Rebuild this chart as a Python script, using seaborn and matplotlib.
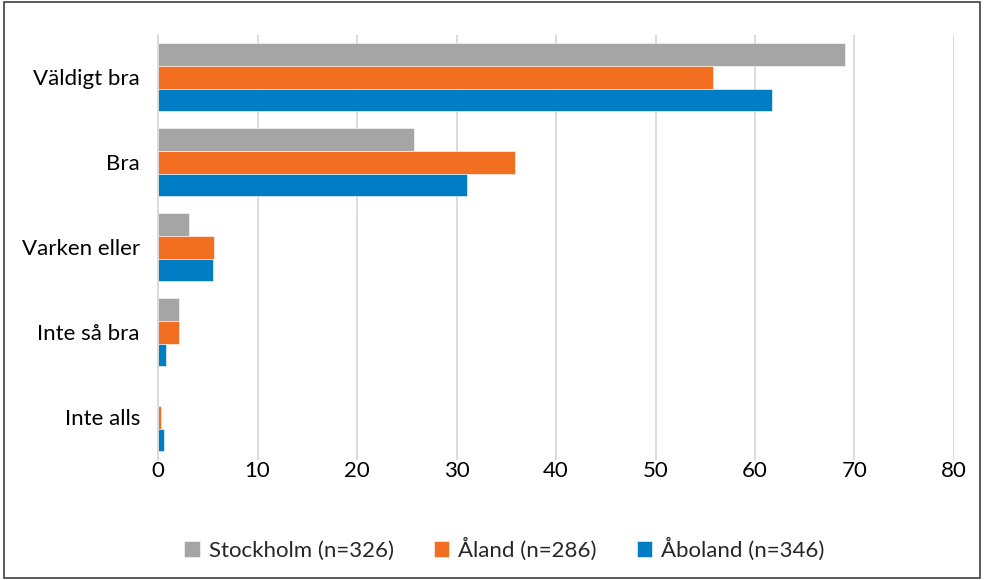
import pandas as pd
import matplotlib.pyplot as plt
import seaborn as sns
from matplotlib.patches import Rectangle

# Data (percent)
categories = ['Väldigt bra', 'Bra', 'Varken eller', 'Inte så bra', 'Inte alls']
series = ['Stockholm (n=326)', 'Åland (n=286)', 'Åboland (n=346)']
stockholm = [69.0, 25.7, 3.1, 2.1, 0.0]
aland = [55.8, 35.9, 5.6, 2.1, 0.3]
aboland = [61.7, 31.1, 5.5, 0.8, 0.6]
colors = ['#A5A5A5', '#F26F22', '#007DC5']

rows = []
for name, vals in zip(series, [stockholm, aland, aboland]):
    for cat, v in zip(categories, vals):
        rows.append({'kategori': cat, 'serie': name, 'procent': v})
df = pd.DataFrame(rows)

sns.set_style('white')
plt.rcParams['font.family'] = ['Lato', 'DejaVu Sans']

fig, ax = plt.subplots(figsize=(9.84, 5.8), dpi=100)
fig.subplots_adjust(left=0.1606, right=0.9695, top=0.94, bottom=0.207)

sns.barplot(data=df, y='kategori', x='procent', hue='serie', order=categories,
            hue_order=series, palette=colors, orient='h', width=0.8,
            saturation=1, edgecolor='white', linewidth=0.4, ax=ax)

ax.set_xlim(0, 80)
ax.set_xticks(range(0, 81, 10))
ax.xaxis.grid(True, color='#D9D9D9', linewidth=1.3)
ax.set_axisbelow(True)
for s in ['top', 'right', 'bottom']:
    ax.spines[s].set_visible(False)
ax.spines['left'].set_color('#D9D9D9')
ax.spines['left'].set_linewidth(1.3)
ax.set_xlabel('')
ax.set_ylabel('')
ax.tick_params(axis='both', length=0, labelsize=16, colors='black')
ax.tick_params(axis='x', pad=1)
ax.tick_params(axis='y', pad=13)

ax.legend(loc='upper center', bbox_to_anchor=(0.435, -0.135), ncol=3,
          frameon=False, fontsize=16, handlelength=0.7, handleheight=0.7,
          columnspacing=1.8, handletextpad=0.4)

fig.patches.append(Rectangle((0.004, 0.004), 0.992, 0.992, transform=fig.transFigure,
                             fill=False, edgecolor='#404040', linewidth=1.2))

fig.savefig('out.png', dpi=100)
